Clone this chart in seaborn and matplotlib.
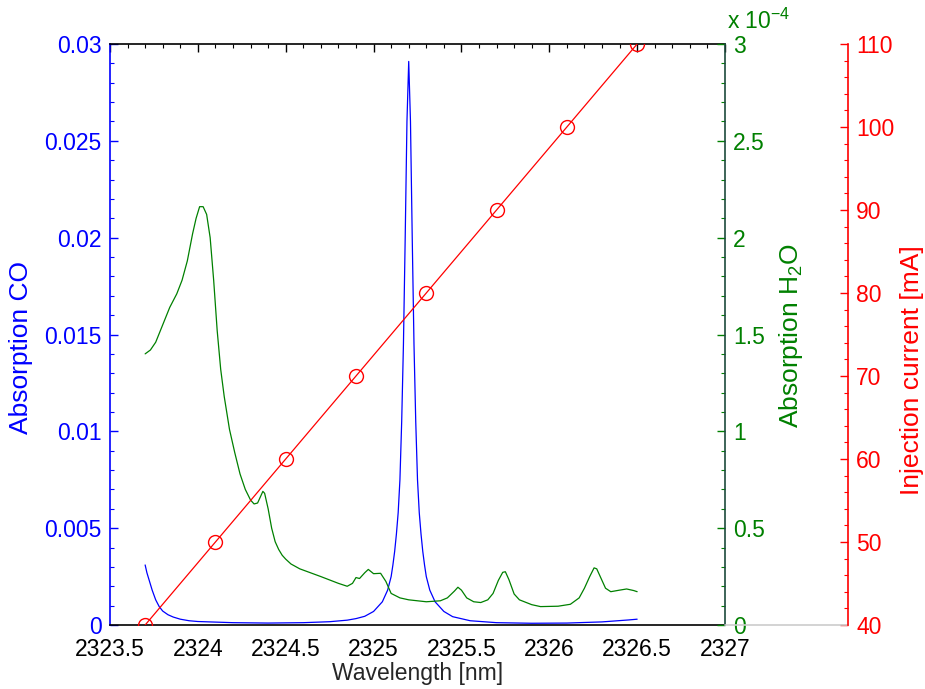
import matplotlib
matplotlib.use("Agg")
import matplotlib.pyplot as plt
from matplotlib.ticker import MultipleLocator, FixedLocator
import seaborn as sns

# CO absorption (blue, left axis)
co_wavelength = [2323.70, 2323.71, 2323.72, 2323.74, 2323.76, 2323.78, 2323.80, 2323.83,
                 2323.86, 2323.90, 2323.95, 2324.00, 2324.20, 2324.40, 2324.60, 2324.75,
                 2324.85, 2324.90, 2324.95, 2325.00, 2325.05, 2325.08, 2325.10, 2325.11,
                 2325.12, 2325.13, 2325.14, 2325.15, 2325.16, 2325.17, 2325.18, 2325.19,
                 2325.20, 2325.21, 2325.22, 2325.23, 2325.24, 2325.25, 2325.26, 2325.27,
                 2325.28, 2325.29, 2325.30, 2325.32, 2325.35, 2325.40, 2325.45, 2325.55,
                 2325.70, 2325.90, 2326.10, 2326.30, 2326.45, 2326.50]
co_absorption = [0.0031, 0.0027, 0.0024, 0.0018, 0.0013, 0.00095, 0.00072, 0.00053,
                 0.00041, 0.0003, 0.00022, 0.00018, 0.00012, 0.0001, 0.00012, 0.00017,
                 0.00025, 0.00033, 0.00045, 0.0007, 0.0012, 0.0018, 0.0025, 0.0031,
                 0.0038, 0.0047, 0.0058, 0.0075, 0.0105, 0.0145, 0.0200, 0.0260,
                 0.0291, 0.0260, 0.0200, 0.0145, 0.0105, 0.0075, 0.0058, 0.0047,
                 0.0038, 0.0031, 0.0025, 0.0018, 0.0012, 0.0007, 0.00043, 0.00022,
                 0.00012, 0.00009, 0.0001, 0.00016, 0.00026, 0.0003]

# H2O absorption in units of 1e-4 (green, inner right axis)
h2o_wavelength = [2323.70, 2323.73, 2323.76, 2323.80, 2323.84, 2323.88, 2323.91, 2323.94,
                  2323.97, 2323.99, 2324.01, 2324.03, 2324.05, 2324.07, 2324.09, 2324.11,
                  2324.13, 2324.15, 2324.18, 2324.21, 2324.24, 2324.27, 2324.30, 2324.32,
                  2324.34, 2324.36, 2324.37, 2324.38, 2324.40, 2324.42, 2324.44, 2324.46,
                  2324.48, 2324.50, 2324.53, 2324.58, 2324.64, 2324.70, 2324.80, 2324.85,
                  2324.88, 2324.90, 2324.92, 2324.95, 2324.97, 2325.00, 2325.04, 2325.07,
                  2325.10, 2325.15, 2325.20, 2325.30, 2325.38, 2325.42, 2325.46, 2325.48,
                  2325.50, 2325.53, 2325.57, 2325.61, 2325.65, 2325.68, 2325.71, 2325.735,
                  2325.75, 2325.77, 2325.80, 2325.83, 2325.90, 2325.95, 2326.05, 2326.12,
                  2326.17, 2326.20, 2326.23, 2326.255, 2326.27, 2326.29, 2326.32, 2326.35,
                  2326.40, 2326.44, 2326.48, 2326.50]
h2o_absorption = [1.40, 1.42, 1.46, 1.55, 1.64, 1.71, 1.78, 1.88,
                  2.02, 2.10, 2.16, 2.16, 2.12, 2.00, 1.78, 1.52,
                  1.32, 1.18, 1.01, 0.89, 0.78, 0.70, 0.645, 0.625,
                  0.63, 0.67, 0.69, 0.68, 0.60, 0.50, 0.43, 0.39,
                  0.36, 0.34, 0.315, 0.29, 0.27, 0.25, 0.215, 0.20,
                  0.215, 0.245, 0.24, 0.27, 0.287, 0.265, 0.267, 0.225,
                  0.163, 0.14, 0.13, 0.12, 0.125, 0.14, 0.175, 0.195,
                  0.18, 0.14, 0.12, 0.116, 0.13, 0.163, 0.23, 0.272,
                  0.275, 0.235, 0.16, 0.13, 0.105, 0.095, 0.097, 0.107,
                  0.14, 0.19, 0.25, 0.295, 0.29, 0.25, 0.19, 0.172,
                  0.18, 0.186, 0.178, 0.172]

# laser tuning (red, outer right axis)
laser_wavelength = [2323.7, 2324.1, 2324.5, 2324.9, 2325.3, 2325.7, 2326.1, 2326.5]
injection_current = [40, 50, 60, 70, 80, 90, 100, 110]

x_ticks = [2323.5, 2324, 2324.5, 2325, 2325.5, 2326, 2326.5, 2327]
x_labels = ["2323.5", "2324", "2324.5", "2325", "2325.5", "2326", "2326.5", "2327"]
co_ticks = [0, 0.005, 0.01, 0.015, 0.02, 0.025, 0.03]
co_labels = ["0", "0.005", "0.01", "0.015", "0.02", "0.025", "0.03"]
h2o_ticks = [0, 0.5, 1, 1.5, 2, 2.5, 3]
h2o_labels = ["0", "0.5", "1", "1.5", "2", "2.5", "3"]
current_ticks = [40, 50, 60, 70, 80, 90, 100, 110]

BLUE = "#0000ff"
GREEN = "#008000"
RED = "#ff0000"
FS = 16.5
LFS = 19

sns.set_style("white")
plt.rcParams["font.family"] = ["Liberation Sans", "DejaVu Sans"]
plt.rcParams["mathtext.fontset"] = "custom"
plt.rcParams["mathtext.rm"] = "Liberation Sans"
plt.rcParams["mathtext.it"] = "Liberation Sans"

fig = plt.figure(figsize=(9.25, 6.89), dpi=100)
ax = fig.add_axes([110 / 925, 64 / 689, 615 / 925, 581 / 689])


def style_y(axis, color, minor_step):
    axis.yaxis.set_minor_locator(MultipleLocator(minor_step))
    axis.tick_params(axis="y", which="both", direction="in", colors=color, labelsize=FS, pad=6)
    axis.tick_params(axis="y", which="major", length=6, width=1)
    axis.tick_params(axis="y", which="minor", length=3, width=0.8)


def place_ylabel(axis, text, color, x_px, y_px):
    axis.set_ylabel(text, fontsize=LFS, color=color, va="center", ha="center")
    axis.yaxis.set_label_coords((x_px - 110) / 615, (625 - y_px) / 581)


sns.lineplot(x=co_wavelength, y=co_absorption, ax=ax, color=BLUE, lw=0.9, estimator=None)
ax.set_xlim(2323.5, 2327)
ax.set_ylim(0, 0.03)
ax.xaxis.set_major_locator(FixedLocator(x_ticks))
ax.set_xticklabels(x_labels)
ax.xaxis.set_minor_locator(MultipleLocator(0.1))
ax.yaxis.set_major_locator(FixedLocator(co_ticks))
ax.set_yticklabels(co_labels)
ax.tick_params(axis="x", which="both", direction="in", top=True, colors="black", labelsize=FS, pad=9)
ax.tick_params(axis="x", which="major", length=6, width=1)
ax.tick_params(axis="x", which="minor", length=3, width=0.8)
style_y(ax, BLUE, 0.001)
ax.set_xlabel("Wavelength [nm]", fontsize=FS, labelpad=1)
place_ylabel(ax, "Absorption CO", BLUE, 21, 348)
ax.spines["left"].set_color(BLUE)
ax.spines["right"].set_visible(False)
for side in ["top", "bottom"]:
    ax.spines[side].set_color("black")
    ax.spines[side].set_linewidth(1.2)
ax.spines["left"].set_linewidth(1.2)

ax2 = ax.twinx()
sns.lineplot(x=h2o_wavelength, y=h2o_absorption, ax=ax2, color=GREEN, lw=0.9, estimator=None)
ax2.set_ylim(0, 3)
ax2.yaxis.set_major_locator(FixedLocator(h2o_ticks))
ax2.set_yticklabels(h2o_labels)
style_y(ax2, GREEN, 0.1)
place_ylabel(ax2, "Absorption H$_2$O", GREEN, 791, 336)
for side in ["left", "top", "bottom"]:
    ax2.spines[side].set_visible(False)
ax2.spines["right"].set_color("#1c4a3c")
ax2.spines["right"].set_linewidth(1.2)

ax3 = ax.twinx()
ax3.spines["right"].set_position(("axes", 1.2))
sns.lineplot(x=laser_wavelength, y=injection_current, ax=ax3, color=RED, lw=0.9,
             marker="o", markersize=10, markerfacecolor="none", markeredgecolor=RED,
             markeredgewidth=1.0, estimator=None)
ax3.set_ylim(40, 110)
ax3.yaxis.set_major_locator(FixedLocator(current_ticks))
style_y(ax3, RED, 2)
place_ylabel(ax3, "Injection current [mA]", RED, 912, 370)
for side in ["left", "top", "bottom"]:
    ax3.spines[side].set_visible(False)
ax3.spines["right"].set_color(RED)
ax3.spines["right"].set_linewidth(1.2)
ax3.plot([1, 1.2], [0, 0], transform=ax3.transAxes, clip_on=False, color="#cccccc", lw=1.2)

fig.text(727 / 925, 660 / 689, "x 10$^{-4}$", color=GREEN, fontsize=FS, va="baseline", ha="left")

fig.savefig("out.png", dpi=100)
plt.close(fig)
